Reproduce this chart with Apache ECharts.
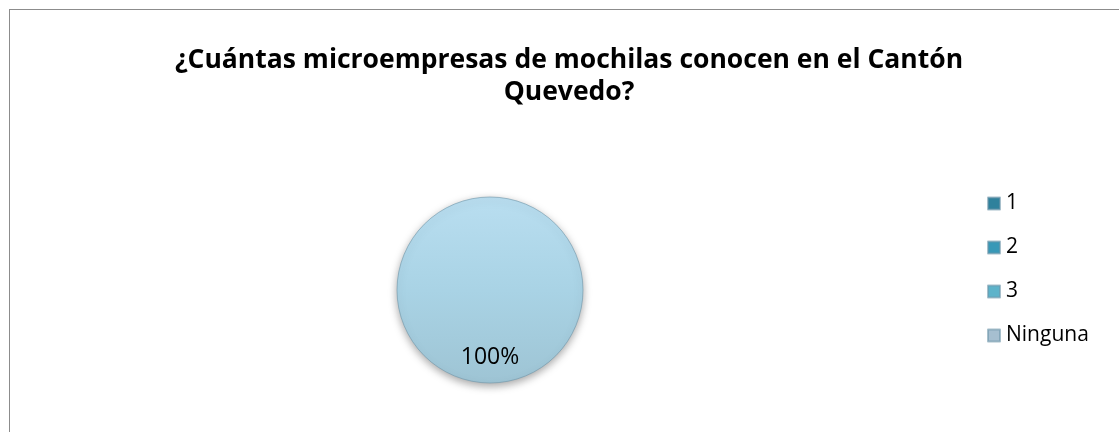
<!DOCTYPE html>
<html>
<head>
<meta charset="utf-8">
<script src="https://cdn.jsdelivr.net/npm/echarts@6/dist/echarts.min.js"></script>
<style>
  html, body { margin: 0; padding: 0; background: #fff; }
  #main { width: 1119px; height: 432px; }
  .frame { position: absolute; left: 9px; top: 9px; width: 1200px; height: 500px; border: 1px solid #8c8c8c; box-sizing: border-box; pointer-events: none; }
</style>
</head>
<body>
<div id="main"></div>
<div class="frame"></div>
<script>
var categories = ['1', '2', '3', 'Ninguna'];
var values = [0, 0, 0, 40];
var legendColors = ['#2f819c', '#3898b7', '#5db3ca', '#a6bfd0'];

var chart = echarts.init(document.getElementById('main'));

var pieFill = new echarts.graphic.LinearGradient(0, 0, 0, 1, [
  { offset: 0, color: '#b9def0' },
  { offset: 0.5, color: '#a9d3e5' },
  { offset: 1, color: '#9ec4d4' }
]);

chart.setOption({
  animation: false,
  title: {
    text: '¿Cuántas microempresas de mochilas conocen en el Cantón\nQuevedo?',
    left: 564,
    top: 39,
    textAlign: 'center',
    textStyle: {
      fontFamily: 'Open Sans',
      fontSize: 26.5,
      fontWeight: 'bold',
      color: '#000',
      lineHeight: 32
    }
  },
  legend: {
    orient: 'vertical',
    left: 982,
    top: 188,
    itemWidth: 12,
    itemHeight: 12,
    itemGap: 23,
    icon: 'rect',
    textStyle: { fontFamily: 'Open Sans', fontSize: 21, color: '#000', padding: [0, 0, 0, 1] },
    data: categories.map(function (c, i) {
      return { name: c, itemStyle: { color: legendColors[i] } };
    })
  },
  series: [{
    type: 'pie',
    center: [490, 290],
    radius: 93,
    startAngle: 90,
    stillShowZeroSum: false,
    label: {
      position: 'inside',
      fontFamily: 'Open Sans',
      fontSize: 23,
      color: '#000',
      offset: [0, 18],
      formatter: function (p) { return p.value ? Math.round(p.percent) + '%' : ''; }
    },
    labelLine: { show: false },
    itemStyle: {
      borderWidth: 1,
      borderColor: 'rgba(110,150,170,0.6)',
      shadowBlur: 9,
      shadowOffsetY: 3,
      shadowColor: 'rgba(0,0,0,0.35)'
    },
    emphasis: { disabled: true },
    data: categories.map(function (c, i) {
      return {
        name: c,
        value: values[i],
        itemStyle: { color: i === 3 ? pieFill : legendColors[i] }
      };
    })
  }]
});
</script>
</body>
</html>
